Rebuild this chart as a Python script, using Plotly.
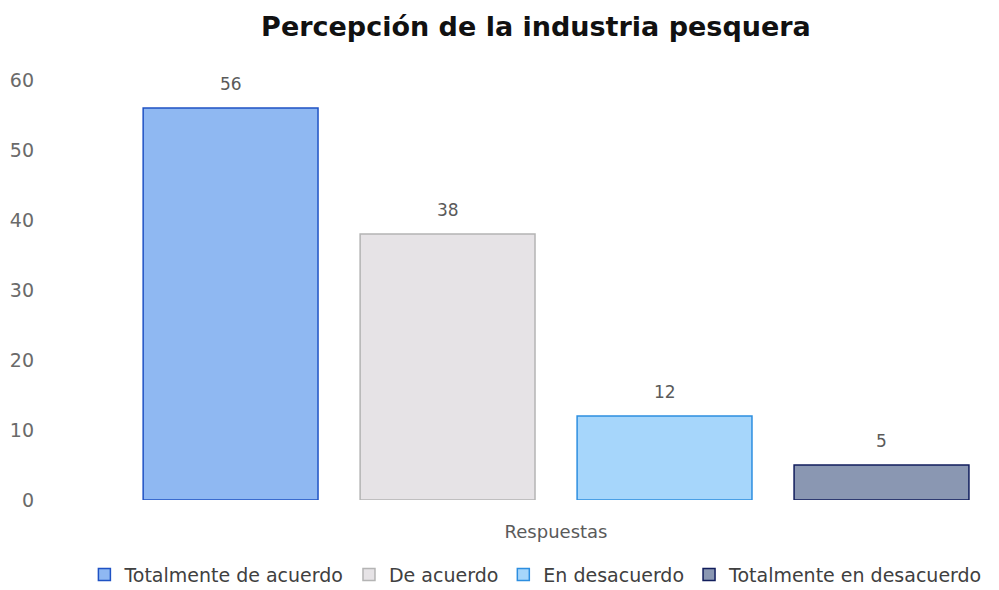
import plotly.graph_objects as go

categories = ["Respuestas"]
series_names = ["Totalmente de acuerdo", "De acuerdo", "En desacuerdo", "Totalmente en desacuerdo"]
series_values = [56, 38, 12, 5]
y_ticks = [0, 10, 20, 30, 40, 50, 60]

fills = ["#8fb8f2", "#e6e3e6", "#a6d6fb", "#8a97b2"]
borders = ["#1f52c4", "#b4b4b4", "#2d8ee0", "#111d5c"]

fig = go.Figure()
for name, val, fc, lc in zip(series_names, series_values, fills, borders):
    fig.add_trace(
        go.Bar(
            x=categories,
            y=[val],
            name=name,
            marker=dict(color=fc, line=dict(color=lc, width=1.5)),
        )
    )

# value labels above each bar (grouped slots on the category axis)
n = len(series_values)
for i, val in enumerate(series_values):
    fig.add_annotation(
        x=-0.5 + (i + 0.5) / n,
        y=val,
        xref="x",
        yref="y",
        text=str(val),
        showarrow=False,
        yanchor="bottom",
        yshift=12,
        font=dict(family="DejaVu Sans", size=17, color="#5a5a5a"),
    )

fig.update_layout(
    title=dict(
        text="<b>Percepción de la industria pesquera</b>",
        x=0.5285,
        xanchor="center",
        y=0.968,
        yanchor="middle",
        font=dict(family="DejaVu Sans", size=27, color="#111111"),
    ),
    width=999,
    height=590,
    margin=dict(l=32, r=17, t=72, b=98, autoexpand=False),
    paper_bgcolor="white",
    plot_bgcolor="white",
    barmode="group",
    bargap=0,
    bargroupgap=0.194,
    showlegend=True,
    legend=dict(
        orientation="h",
        x=0.522,
        xanchor="center",
        y=-0.178,
        yanchor="middle",
        font=dict(family="DejaVu Sans", size=19, color="#404040"),
        itemwidth=30,
        traceorder="normal",
    ),
    font=dict(family="DejaVu Sans", color="#595959"),
)

fig.update_xaxes(
    range=[-0.5946, 0.5],
    showgrid=False,
    showline=False,
    ticks="",
    tickfont=dict(size=18, color="#5a5a5a"),
    ticklabelstandoff=19,
)
fig.update_yaxes(
    range=[0, 60],
    tickvals=y_ticks,
    showgrid=False,
    zeroline=False,
    showline=False,
    tickfont=dict(size=19, color="#6a6a6a"),
    ticklabelstandoff=5,
)

fig.write_html("out.html")
